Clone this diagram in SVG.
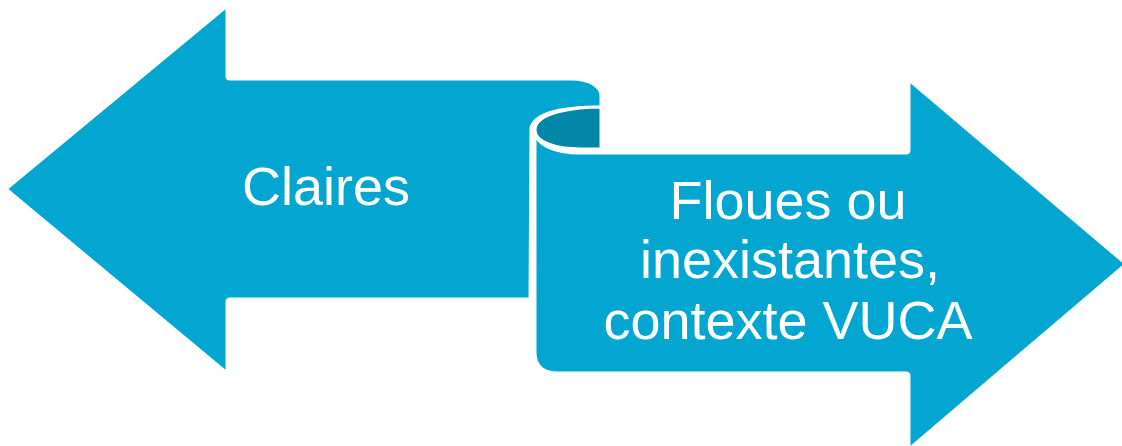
<svg xmlns="http://www.w3.org/2000/svg" width="1122" height="446" viewBox="0 0 1122 446">
<style>
.shape{fill:#02A6D0;stroke:#FFFFFF;stroke-width:3;stroke-linejoin:round}
.dark{fill:#0187A8;stroke:#FFFFFF;stroke-width:3;stroke-linejoin:round}
.lbl{font-family:"Liberation Sans",Arial,sans-serif;font-size:54px;fill:#FFFFFF;text-anchor:middle}
</style>
<rect width="1122" height="446" fill="#FFFFFF"/>
<g id="node-right">
<path class="shape" d="M909,80 L1126,264 L909,449 L909,376 Q909,373 906,373 L558,373 Q535,373 535,352 L535,130 C535,145 555,153 580,153 L906,153 Q909,153 909,150 Z"/>
<text class="lbl" x="788" y="219">Floues ou</text>
<text class="lbl" x="790" y="278">inexistantes,</text>
<text class="lbl" x="788" y="339">contexte VUCA</text>
</g>
<g id="node-left">
<path class="shape" d="M6,189 L227,6 L227,76 Q227,79 230,79 L572,79 C588,79 601,86 601,96 L601,107 C575,107 535,110 531,128 L530,299 L230,299 Q227,299 227,302 L227,373 Z"/>
<path class="dark" d="M601,107 C575,107 535,112 535,130 C535,142 555,149 580,149 L601,149 Z"/>
<text class="lbl" x="326" y="205">Claires</text>
</g>
<g id="connectors"></g>
</svg>
